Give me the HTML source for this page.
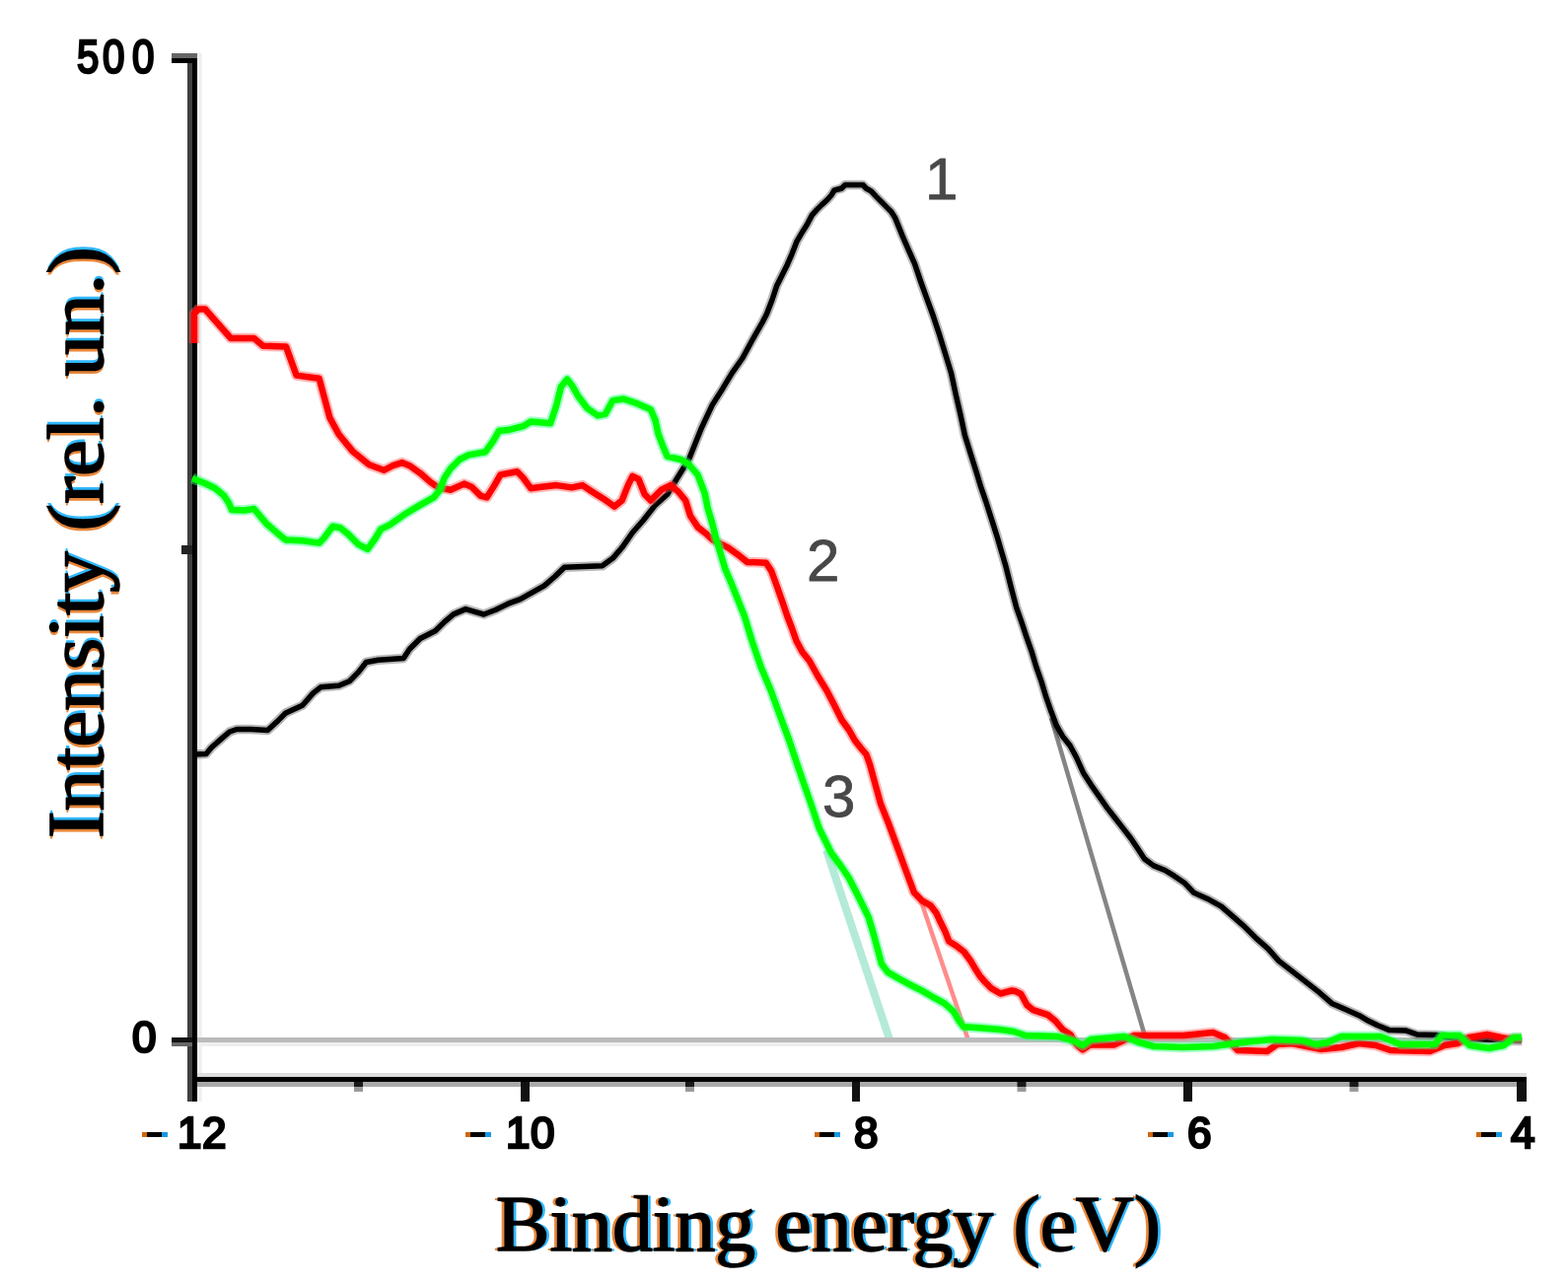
<!DOCTYPE html>
<html><head><meta charset="utf-8"><title>Binding energy</title>
<style>
html,body{margin:0;padding:0;background:#fff;width:1590px;height:1302px;overflow:hidden;}
svg{display:block;}
.tk{font-family:"Liberation Sans",Arial,sans-serif;font-size:44px;fill:#000;stroke:#000;stroke-width:2.6px;}
.lb{font-family:"Liberation Sans",Arial,sans-serif;font-size:60px;fill:#484848;stroke:#484848;stroke-width:0.8px;}
.ttl{font-family:"Liberation Serif","Times New Roman",serif;font-weight:normal;font-size:80px;}
</style></head>
<body>
<svg width="1590" height="1302" viewBox="0 0 1590 1302">
<rect x="0" y="0" width="1590" height="1302" fill="#fff"/>
<!-- tangent lines -->
<line x1="1066" y1="728" x2="1162" y2="1054" stroke="#858585" stroke-width="4.5"/>
<line x1="934" y1="914" x2="982" y2="1055" stroke="#ff8c8c" stroke-width="4.5"/>
<line x1="838" y1="862" x2="902" y2="1054" stroke="#b4ead8" stroke-width="8"/>
<!-- axes -->
<rect x="190" y="54" width="5" height="1063" fill="#404040"/>
<rect x="195" y="54" width="5" height="1063" fill="#000"/>
<rect x="200" y="54" width="4.5" height="1063" fill="#eee"/>
<rect x="200" y="1088" width="1348" height="4" fill="#ddd"/>
<rect x="195" y="1092" width="1353" height="5" fill="#000"/>
<rect x="200" y="1097" width="1338" height="5" fill="#aaa"/>
<!-- zero line -->
<rect x="200" y="1052" width="1344" height="5" fill="#bbb"/>
<rect x="200" y="1057" width="1344" height="4" fill="#eee"/>
<!-- curves -->
<polyline points="195.0,765.0 209.0,764.5 214.4,758.0 224.2,749.4 232.8,742.0 240.0,739.5 254.5,739.5 271.4,740.6 280.6,732.1 289.8,722.9 306.7,715.2 317.5,702.9 325.2,696.8 343.6,695.3 354.4,690.7 363.6,681.4 371.3,671.5 383.5,669.2 409.2,667.5 415.3,658.3 426.1,647.5 441.4,639.8 450.7,630.6 459.9,622.9 472.2,617.6 479.8,619.9 490.6,623.0 502.9,618.3 515.2,612.2 527.5,607.6 541.3,599.9 552.0,593.8 562.8,584.5 572.3,575.3 610.7,573.8 621.4,566.1 630.7,555.3 641.4,540.0 652.2,527.7 664.5,512.1 676.7,501.3 686.0,486.0 693.6,473.7 699.2,464.3 711.5,433.6 722.3,410.6 733.0,393.7 742.2,378.3 753.0,363.0 762.2,346.0 773.0,327.0 777.4,318.5 783.0,304.0 787.8,289.4 793.3,278.4 798.2,268.7 803.0,257.6 807.8,245.2 813.4,235.5 818.2,228.0 823.4,218.1 828.5,212.4 833.6,207.4 838.7,202.8 843.2,197.7 846.0,193.0 853.4,191.0 857.0,187.5 875.0,187.5 878.3,191.0 883.4,193.8 888.5,199.4 893.6,204.5 898.7,209.6 903.8,214.7 907.7,220.9 915.4,239.9 921.5,253.8 927.6,267.6 933.8,286.0 939.9,302.9 946.1,319.8 952.2,338.2 958.4,358.2 964.5,378.2 969.2,400.0 973.8,419.9 978.4,441.4 984.6,461.4 990.0,478.3 994.6,493.7 999.9,509.0 1005.3,525.9 1010.7,542.8 1016.1,561.3 1020.0,574.6 1025.4,596.1 1030.7,616.1 1036.1,631.4 1040.7,645.3 1046.1,660.6 1050.7,676.0 1056.1,691.4 1060.7,706.7 1066.1,722.1 1071.4,735.9 1077.6,746.7 1085.0,756.0 1091.5,768.0 1098.4,783.4 1106.5,796.1 1114.6,807.6 1122.6,819.1 1130.7,829.5 1138.8,839.9 1146.8,850.2 1153.7,860.6 1160.6,871.0 1169.9,877.9 1181.4,882.5 1190.6,888.2 1201.0,895.2 1210.7,905.3 1224.5,911.4 1238.4,919.1 1249.1,928.3 1261.4,939.1 1273.7,951.4 1286.0,962.1 1296.7,974.4 1310.6,985.2 1324.4,995.9 1338.2,1006.7 1350.5,1017.4 1364.3,1023.6 1378.2,1029.7 1385.7,1034.2 1397.0,1039.8 1408.3,1044.4 1425.3,1044.9 1436.6,1048.9 1457.0,1049.5 1475.0,1053.0 1543.0,1055.0" fill="none" stroke="#000" stroke-opacity="0.28" stroke-width="9.5" stroke-linejoin="round"/>
<polyline points="195.0,765.0 209.0,764.5 214.4,758.0 224.2,749.4 232.8,742.0 240.0,739.5 254.5,739.5 271.4,740.6 280.6,732.1 289.8,722.9 306.7,715.2 317.5,702.9 325.2,696.8 343.6,695.3 354.4,690.7 363.6,681.4 371.3,671.5 383.5,669.2 409.2,667.5 415.3,658.3 426.1,647.5 441.4,639.8 450.7,630.6 459.9,622.9 472.2,617.6 479.8,619.9 490.6,623.0 502.9,618.3 515.2,612.2 527.5,607.6 541.3,599.9 552.0,593.8 562.8,584.5 572.3,575.3 610.7,573.8 621.4,566.1 630.7,555.3 641.4,540.0 652.2,527.7 664.5,512.1 676.7,501.3 686.0,486.0 693.6,473.7 699.2,464.3 711.5,433.6 722.3,410.6 733.0,393.7 742.2,378.3 753.0,363.0 762.2,346.0 773.0,327.0 777.4,318.5 783.0,304.0 787.8,289.4 793.3,278.4 798.2,268.7 803.0,257.6 807.8,245.2 813.4,235.5 818.2,228.0 823.4,218.1 828.5,212.4 833.6,207.4 838.7,202.8 843.2,197.7 846.0,193.0 853.4,191.0 857.0,187.5 875.0,187.5 878.3,191.0 883.4,193.8 888.5,199.4 893.6,204.5 898.7,209.6 903.8,214.7 907.7,220.9 915.4,239.9 921.5,253.8 927.6,267.6 933.8,286.0 939.9,302.9 946.1,319.8 952.2,338.2 958.4,358.2 964.5,378.2 969.2,400.0 973.8,419.9 978.4,441.4 984.6,461.4 990.0,478.3 994.6,493.7 999.9,509.0 1005.3,525.9 1010.7,542.8 1016.1,561.3 1020.0,574.6 1025.4,596.1 1030.7,616.1 1036.1,631.4 1040.7,645.3 1046.1,660.6 1050.7,676.0 1056.1,691.4 1060.7,706.7 1066.1,722.1 1071.4,735.9 1077.6,746.7 1085.0,756.0 1091.5,768.0 1098.4,783.4 1106.5,796.1 1114.6,807.6 1122.6,819.1 1130.7,829.5 1138.8,839.9 1146.8,850.2 1153.7,860.6 1160.6,871.0 1169.9,877.9 1181.4,882.5 1190.6,888.2 1201.0,895.2 1210.7,905.3 1224.5,911.4 1238.4,919.1 1249.1,928.3 1261.4,939.1 1273.7,951.4 1286.0,962.1 1296.7,974.4 1310.6,985.2 1324.4,995.9 1338.2,1006.7 1350.5,1017.4 1364.3,1023.6 1378.2,1029.7 1385.7,1034.2 1397.0,1039.8 1408.3,1044.4 1425.3,1044.9 1436.6,1048.9 1457.0,1049.5 1475.0,1053.0 1543.0,1055.0" fill="none" stroke="#000" stroke-width="5.5" stroke-linejoin="round"/>
<polyline points="197.0,348.0 197.0,318.0 201.0,313.5 208.0,313.5 234.0,343.0 257.6,343.0 266.8,350.7 290.0,351.4 300.6,380.6 323.6,383.7 334.4,423.6 343.6,440.5 357.4,457.4 374.3,471.3 389.2,476.8 398.4,472.2 407.6,469.1 415.3,472.2 426.1,479.8 436.8,489.1 444.5,494.4 456.8,496.7 470.6,490.6 478.3,493.7 487.5,502.9 493.7,504.4 501.4,492.1 507.5,481.4 524.4,478.3 530.5,484.5 538.2,495.2 549.0,493.7 564.3,492.1 579.7,494.4 590.7,492.1 599.9,498.2 612.2,505.9 623.0,513.6 630.7,507.5 636.8,492.1 641.4,482.9 647.6,486.0 653.7,501.3 659.8,507.5 670.6,496.7 679.8,492.1 687.5,498.2 695.2,507.5 700.0,523.0 707.7,534.6 715.4,540.7 723.0,547.6 738.4,555.3 749.9,563.7 757.6,569.9 776.8,570.7 782.2,579.0 788.0,595.0 794.0,612.0 798.4,625.0 803.0,637.0 807.6,650.0 813.5,661.0 820.7,670.0 829.0,685.0 838.2,700.0 846.0,715.0 853.5,730.0 860.8,740.0 867.0,751.0 872.5,758.0 878.4,765.0 882.0,775.0 886.1,790.0 893.0,815.0 901.0,835.0 908.4,855.0 917.6,880.0 926.9,905.0 934.6,913.1 943.8,918.4 949.2,925.4 953.8,935.3 958.4,944.6 962.3,954.5 969.9,959.2 977.6,965.3 983.8,973.7 988.4,981.4 993.7,989.9 999.1,996.0 1005.3,1002.2 1014.5,1007.5 1026.0,1004.5 1030.1,1005.3 1035.2,1007.8 1041.4,1019.1 1047.7,1024.2 1062.8,1029.2 1070.4,1035.5 1077.9,1044.3 1085.5,1049.3 1091.8,1059.4 1098.0,1064.4 1105.6,1059.4 1130.0,1059.4 1150.0,1050.0 1200.0,1050.0 1230.0,1047.0 1242.0,1052.0 1255.0,1065.0 1285.0,1066.0 1295.0,1059.0 1310.0,1058.0 1340.0,1064.0 1360.0,1062.0 1378.0,1058.0 1395.0,1060.0 1410.0,1065.0 1450.0,1066.0 1465.0,1060.0 1478.0,1058.0 1490.0,1052.0 1508.0,1049.0 1527.0,1053.0 1543.0,1053.0" fill="none" stroke="#ff6060" stroke-opacity="0.45" stroke-width="10.5" stroke-linejoin="round"/>
<polyline points="197.0,348.0 197.0,318.0 201.0,313.5 208.0,313.5 234.0,343.0 257.6,343.0 266.8,350.7 290.0,351.4 300.6,380.6 323.6,383.7 334.4,423.6 343.6,440.5 357.4,457.4 374.3,471.3 389.2,476.8 398.4,472.2 407.6,469.1 415.3,472.2 426.1,479.8 436.8,489.1 444.5,494.4 456.8,496.7 470.6,490.6 478.3,493.7 487.5,502.9 493.7,504.4 501.4,492.1 507.5,481.4 524.4,478.3 530.5,484.5 538.2,495.2 549.0,493.7 564.3,492.1 579.7,494.4 590.7,492.1 599.9,498.2 612.2,505.9 623.0,513.6 630.7,507.5 636.8,492.1 641.4,482.9 647.6,486.0 653.7,501.3 659.8,507.5 670.6,496.7 679.8,492.1 687.5,498.2 695.2,507.5 700.0,523.0 707.7,534.6 715.4,540.7 723.0,547.6 738.4,555.3 749.9,563.7 757.6,569.9 776.8,570.7 782.2,579.0 788.0,595.0 794.0,612.0 798.4,625.0 803.0,637.0 807.6,650.0 813.5,661.0 820.7,670.0 829.0,685.0 838.2,700.0 846.0,715.0 853.5,730.0 860.8,740.0 867.0,751.0 872.5,758.0 878.4,765.0 882.0,775.0 886.1,790.0 893.0,815.0 901.0,835.0 908.4,855.0 917.6,880.0 926.9,905.0 934.6,913.1 943.8,918.4 949.2,925.4 953.8,935.3 958.4,944.6 962.3,954.5 969.9,959.2 977.6,965.3 983.8,973.7 988.4,981.4 993.7,989.9 999.1,996.0 1005.3,1002.2 1014.5,1007.5 1026.0,1004.5 1030.1,1005.3 1035.2,1007.8 1041.4,1019.1 1047.7,1024.2 1062.8,1029.2 1070.4,1035.5 1077.9,1044.3 1085.5,1049.3 1091.8,1059.4 1098.0,1064.4 1105.6,1059.4 1130.0,1059.4 1150.0,1050.0 1200.0,1050.0 1230.0,1047.0 1242.0,1052.0 1255.0,1065.0 1285.0,1066.0 1295.0,1059.0 1310.0,1058.0 1340.0,1064.0 1360.0,1062.0 1378.0,1058.0 1395.0,1060.0 1410.0,1065.0 1450.0,1066.0 1465.0,1060.0 1478.0,1058.0 1490.0,1052.0 1508.0,1049.0 1527.0,1053.0 1543.0,1053.0" fill="none" stroke="#ff0000" stroke-width="6.5" stroke-linejoin="round"/>
<polyline points="195.0,485.0 207.6,490.0 218.0,495.0 227.0,502.5 232.0,510.0 235.0,517.0 247.5,517.5 257.6,516.0 269.9,530.7 282.2,541.4 289.8,547.6 306.7,548.3 323.6,550.6 328.2,546.0 337.5,533.7 345.1,535.3 352.8,541.4 363.6,552.2 372.8,556.8 380.5,546.0 386.1,536.7 395.4,532.1 410.7,521.3 426.1,512.1 439.9,504.4 446.1,496.7 450.7,484.5 456.8,475.2 466.0,466.0 475.2,461.4 492.1,458.3 499.8,447.6 506.0,436.8 515.2,436.1 530.5,432.2 538.2,427.6 558.2,429.2 564.3,410.7 568.9,392.3 575.1,384.6 580.0,390.7 586.1,401.5 595.3,413.8 606.1,421.4 613.8,419.9 621.4,406.1 632.2,404.5 646.0,409.2 659.8,415.3 664.5,426.1 667.5,439.9 672.1,452.2 676.7,462.9 690.6,466.0 698.2,470.6 707.5,481.4 714.6,500.0 717.7,515.4 722.3,530.7 726.1,546.1 730.7,561.4 735.3,576.8 741.0,590.0 745.0,600.0 755.0,625.0 762.6,650.0 771.5,676.0 781.6,700.0 790.7,725.0 800.0,750.0 808.4,775.0 813.5,790.0 822.3,815.0 830.7,840.0 843.0,865.0 854.0,880.0 860.7,890.0 868.4,905.0 880.7,930.0 886.6,950.0 890.3,963.8 894.0,977.6 900.4,985.9 911.5,992.4 923.5,998.8 934.5,1004.4 945.6,1010.8 957.6,1017.3 966.8,1025.6 972.3,1034.8 976.9,1041.2 989.8,1042.0 1014.0,1044.0 1028.0,1046.0 1040.0,1050.0 1073.0,1051.0 1090.0,1056.0 1098.0,1060.0 1106.0,1054.0 1140.0,1051.0 1155.0,1057.0 1170.0,1061.0 1200.0,1062.0 1230.0,1061.0 1260.0,1057.0 1290.0,1054.0 1321.0,1055.0 1335.0,1059.0 1346.0,1057.0 1360.0,1051.0 1400.0,1051.0 1410.0,1055.0 1420.0,1059.0 1455.0,1059.0 1462.0,1050.0 1480.0,1050.0 1490.0,1060.0 1510.0,1063.0 1525.0,1060.0 1535.0,1052.0 1543.0,1052.0" fill="none" stroke="#30ff80" stroke-opacity="0.45" stroke-width="10.5" stroke-linejoin="round"/>
<polyline points="195.0,485.0 207.6,490.0 218.0,495.0 227.0,502.5 232.0,510.0 235.0,517.0 247.5,517.5 257.6,516.0 269.9,530.7 282.2,541.4 289.8,547.6 306.7,548.3 323.6,550.6 328.2,546.0 337.5,533.7 345.1,535.3 352.8,541.4 363.6,552.2 372.8,556.8 380.5,546.0 386.1,536.7 395.4,532.1 410.7,521.3 426.1,512.1 439.9,504.4 446.1,496.7 450.7,484.5 456.8,475.2 466.0,466.0 475.2,461.4 492.1,458.3 499.8,447.6 506.0,436.8 515.2,436.1 530.5,432.2 538.2,427.6 558.2,429.2 564.3,410.7 568.9,392.3 575.1,384.6 580.0,390.7 586.1,401.5 595.3,413.8 606.1,421.4 613.8,419.9 621.4,406.1 632.2,404.5 646.0,409.2 659.8,415.3 664.5,426.1 667.5,439.9 672.1,452.2 676.7,462.9 690.6,466.0 698.2,470.6 707.5,481.4 714.6,500.0 717.7,515.4 722.3,530.7 726.1,546.1 730.7,561.4 735.3,576.8 741.0,590.0 745.0,600.0 755.0,625.0 762.6,650.0 771.5,676.0 781.6,700.0 790.7,725.0 800.0,750.0 808.4,775.0 813.5,790.0 822.3,815.0 830.7,840.0 843.0,865.0 854.0,880.0 860.7,890.0 868.4,905.0 880.7,930.0 886.6,950.0 890.3,963.8 894.0,977.6 900.4,985.9 911.5,992.4 923.5,998.8 934.5,1004.4 945.6,1010.8 957.6,1017.3 966.8,1025.6 972.3,1034.8 976.9,1041.2 989.8,1042.0 1014.0,1044.0 1028.0,1046.0 1040.0,1050.0 1073.0,1051.0 1090.0,1056.0 1098.0,1060.0 1106.0,1054.0 1140.0,1051.0 1155.0,1057.0 1170.0,1061.0 1200.0,1062.0 1230.0,1061.0 1260.0,1057.0 1290.0,1054.0 1321.0,1055.0 1335.0,1059.0 1346.0,1057.0 1360.0,1051.0 1400.0,1051.0 1410.0,1055.0 1420.0,1059.0 1455.0,1059.0 1462.0,1050.0 1480.0,1050.0 1490.0,1060.0 1510.0,1063.0 1525.0,1060.0 1535.0,1052.0 1543.0,1052.0" fill="none" stroke="#00ff00" stroke-width="6.5" stroke-linejoin="round"/>
<!-- y ticks -->
<rect x="174" y="54" width="26" height="5" fill="#666"/>
<rect x="174" y="59" width="26" height="5" fill="#000"/>
<rect x="174" y="1052" width="21" height="5" fill="#111"/>
<rect x="174" y="1057" width="21" height="4" fill="#666"/>
<rect x="184" y="553" width="11" height="9" fill="#222"/>
<!-- x ticks -->
<rect x="528" y="1097" width="9" height="20" fill="#111"/>
<rect x="864" y="1097" width="8" height="20" fill="#111"/>
<rect x="1200" y="1097" width="9" height="20" fill="#111"/>
<rect x="1538" y="1097" width="10" height="20" fill="#111"/>
<rect x="359.0" y="1097" width="9" height="5" fill="#1a1a1a"/><rect x="359.0" y="1102" width="9" height="5" fill="#9a9a9a"/>
<rect x="695.0" y="1097" width="9" height="5" fill="#1a1a1a"/><rect x="695.0" y="1102" width="9" height="5" fill="#9a9a9a"/>
<rect x="1031.5" y="1097" width="9" height="5" fill="#1a1a1a"/><rect x="1031.5" y="1102" width="9" height="5" fill="#9a9a9a"/>
<rect x="1368.5" y="1097" width="9" height="5" fill="#1a1a1a"/><rect x="1368.5" y="1102" width="9" height="5" fill="#9a9a9a"/>
<!-- y tick labels -->
<g class="tk">
<text transform="translate(78,74) scale(0.84,1)" font-size="48">5</text><text transform="translate(104,74) scale(0.84,1)" font-size="48">0</text><text transform="translate(134,74) scale(0.84,1)" font-size="48">0</text>
<text x="134" y="1067">0</text>
<text x="180" y="1164">1</text><text x="205" y="1164">2</text>
<text x="513" y="1164">1</text><text x="538" y="1164">0</text>
<text x="866" y="1164">8</text>
<text x="1204" y="1164">6</text>
<text x="1532" y="1164">4</text>
</g>
<!-- x tick label minus signs -->
<g>
<rect x="144" y="1148" width="5" height="5" fill="#d0660c"/><rect x="149" y="1148" width="15" height="5" fill="#000"/><rect x="164" y="1148" width="6" height="5" fill="#1898e4"/><rect x="472" y="1148" width="5" height="5" fill="#d0660c"/><rect x="477" y="1148" width="15" height="5" fill="#000"/><rect x="492" y="1148" width="6" height="5" fill="#1898e4"/><rect x="826" y="1148" width="5" height="5" fill="#d0660c"/><rect x="831" y="1148" width="15" height="5" fill="#000"/><rect x="846" y="1148" width="6" height="5" fill="#1898e4"/><rect x="1164" y="1148" width="5" height="5" fill="#d0660c"/><rect x="1169" y="1148" width="15" height="5" fill="#000"/><rect x="1184" y="1148" width="6" height="5" fill="#1898e4"/><rect x="1497" y="1148" width="5" height="5" fill="#d0660c"/><rect x="1502" y="1148" width="15" height="5" fill="#000"/><rect x="1517" y="1148" width="6" height="5" fill="#1898e4"/>
</g>
<!-- curve labels -->
<text class="lb" x="938" y="202">1</text>
<text class="lb" x="818" y="589">2</text>
<text class="lb" x="834" y="828">3</text>
<!-- axis titles -->
<g class="ttl">
<text x="499.5" y="1268" fill="#e8873a" textLength="674" lengthAdjust="spacingAndGlyphs">Binding energy (eV)</text>
<text x="506.5" y="1268" fill="#30b8ff" textLength="674" lengthAdjust="spacingAndGlyphs">Binding energy (eV)</text>
<text x="503" y="1268" fill="#000" stroke="#000" stroke-width="1.6" textLength="674" lengthAdjust="spacingAndGlyphs">Binding energy (eV)</text>
</g>
<g class="ttl" transform="translate(104,850) rotate(-90)">
<text x="-3.5" y="0" fill="#e8873a" textLength="600" lengthAdjust="spacingAndGlyphs">Intensity (rel. un.)</text>
<text x="3.5" y="0" fill="#30b8ff" textLength="600" lengthAdjust="spacingAndGlyphs">Intensity (rel. un.)</text>
<text x="0" y="0" fill="#000" stroke="#000" stroke-width="1.6" textLength="600" lengthAdjust="spacingAndGlyphs">Intensity (rel. un.)</text>
</g>
</svg>
</body></html>
